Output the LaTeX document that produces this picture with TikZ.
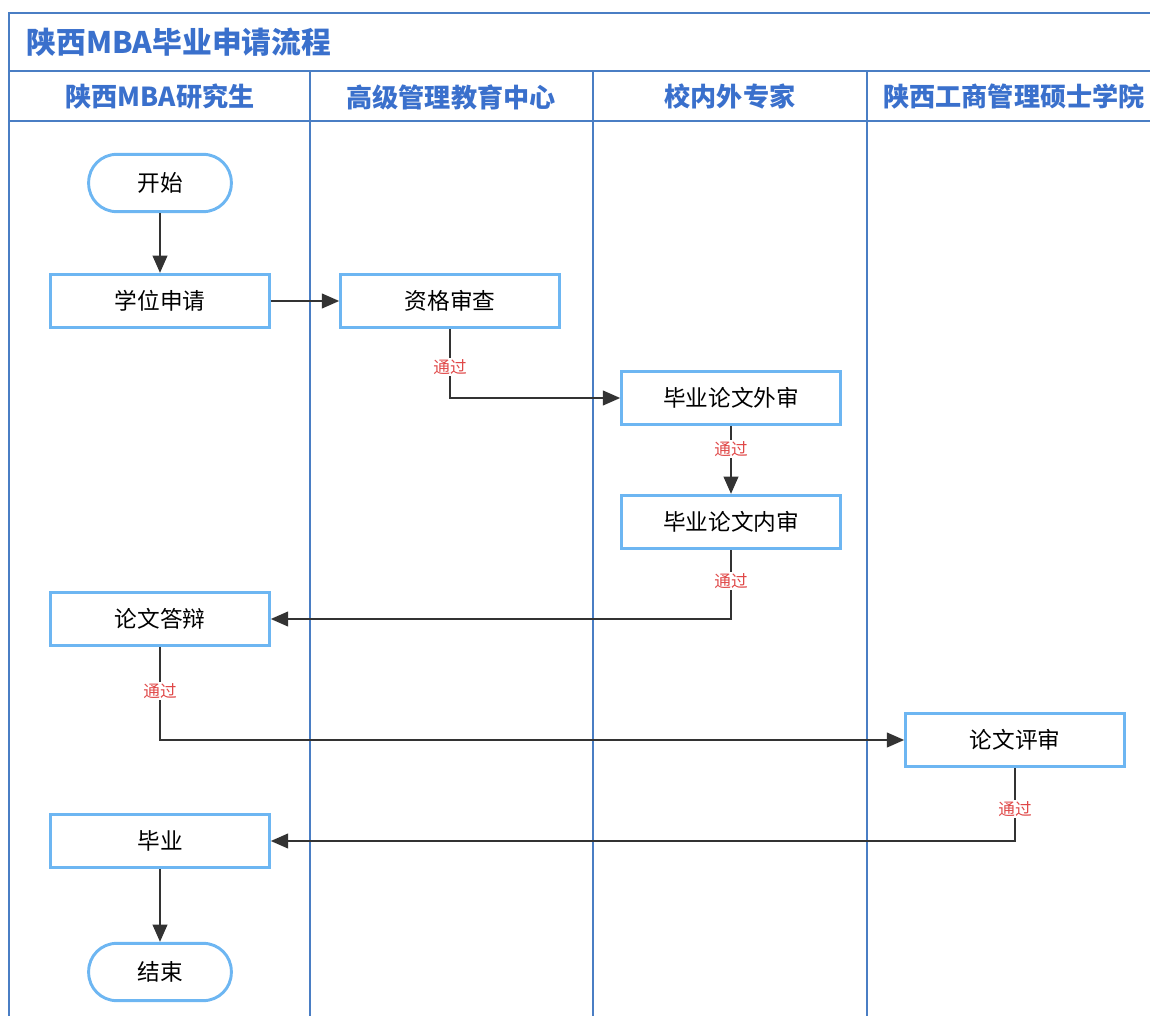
\documentclass[tikz,border=0pt]{standalone}
\usepackage{fontspec}
\setmainfont{Noto Sans CJK SC}
\usetikzlibrary{arrows.meta}
\definecolor{frameblue}{HTML}{4A7EC4}
\definecolor{titleblue}{HTML}{3A70CC}
\definecolor{boxblue}{HTML}{6DB6F2}
\definecolor{labred}{HTML}{E04848}
\definecolor{arrowgray}{HTML}{333333}
\tikzset{
  frame/.style={draw=frameblue, line width=1.5pt},
  proc/.style={draw=boxblue, line width=2.2pt, fill=white, minimum width=164pt, minimum height=40pt, inner sep=0pt, font=\fontsize{17}{20}\selectfont},
  term/.style={proc, minimum width=107pt, minimum height=43pt, rounded corners=21pt},
  flow/.style={draw=arrowgray, line width=1.6pt, -{Triangle[length=13pt,width=11pt]}},
  lab/.style={fill=white, text=labred, inner sep=1pt, font=\fontsize{12.5}{14}\selectfont},
  lanehead/.style={text=titleblue, font=\bfseries\fontsize{19.6}{23}\selectfont},
}
\begin{document}
\begin{tikzpicture}[x=0.75pt, y=-0.75pt]
\useasboundingbox (0,0) rectangle (1150,1016);
% frame
\draw[frame] (9,1020) -- (9,13) -- (1155,13);
\draw[frame] (9,71) -- (1155,71);
\draw[frame] (9,121) -- (1155,121);
\draw[frame] (310,71) -- (310,1020);
\draw[frame] (593,71) -- (593,1020);
\draw[frame] (867,71) -- (867,1020);
% title & headers
\node[lanehead, anchor=west, font=\bfseries\fontsize{22.3}{26}\selectfont] (title) at (22,42) {陕西MBA毕业申请流程};
\node[lanehead] (h1) at (160,97) {陕西MBA研究生};
\node[lanehead] (h2) at (451,97) {高级管理教育中心};
\node[lanehead] (h3) at (730,97) {校内外专家};
\node[lanehead] (h4) at (1014,97) {陕西工商管理硕士学院};
% nodes
\node[term] (start) at (160,183) {开始};
\node[proc] (apply) at (160,301) {学位申请};
\node[proc] (check) at (450,301) {资格审查};
\node[proc] (ext) at (731,398) {毕业论文外审};
\node[proc] (int) at (731,522) {毕业论文内审};
\node[proc] (def) at (160,619) {论文答辩};
\node[proc] (rev) at (1015,740) {论文评审};
\node[proc] (grad) at (160,841) {毕业};
\node[term] (end) at (160,972) {结束};
% connectors
\draw[flow] (start) -- (apply);
\draw[flow] (apply) -- (check);
\draw[flow] (check.south) |- (ext.west);
\draw[flow] (ext) -- (int);
\draw[flow] (int.south) |- (def.east);
\draw[flow] (def.south) |- (rev.west);
\draw[flow] (rev.south) |- (grad.east);
\draw[flow] (grad) -- (end);
% labels
\node[lab] (l1) at (450,367) {通过};
\node[lab] (l2) at (731,449) {通过};
\node[lab] (l3) at (731,581) {通过};
\node[lab] (l4) at (160,691) {通过};
\node[lab] (l5) at (1015,809) {通过};
\end{tikzpicture}
\end{document}
